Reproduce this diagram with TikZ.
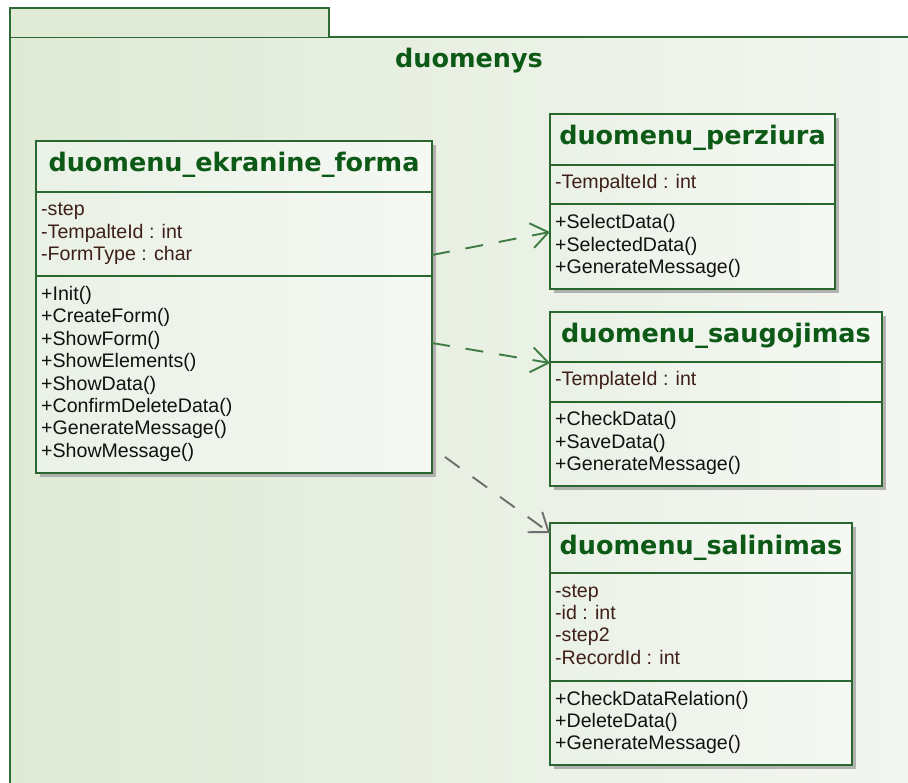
\documentclass[tikz,border=0pt]{standalone}
\usepackage{fontspec}
\setmainfont{Liberation Sans}
\newfontfamily\headfont{DejaVu Sans}
\usetikzlibrary{arrows.meta,calc,shadows}

\definecolor{pkgline}{HTML}{2E6A33}
\definecolor{pkgL}{HTML}{DFEAD6}
\definecolor{pkgR}{HTML}{F3F6F1}
\definecolor{tabfill}{HTML}{E0EBD7}
\definecolor{boxline}{HTML}{2A6630}
\definecolor{boxL}{HTML}{EAF1E6}
\definecolor{boxR}{HTML}{F5F8F3}
\definecolor{headgreen}{HTML}{0D5A16}
\definecolor{attrcol}{HTML}{3E2018}
\definecolor{opcol}{HTML}{111111}
\definecolor{depgreen}{HTML}{3E7C44}
\definecolor{depgray}{HTML}{6E6E6E}
\definecolor{shadowgray}{HTML}{A2A2A2}

\tikzset{
  classbox/.style={draw=boxline, line width=1.4pt, left color=boxL, right color=boxR,
    anchor=north west, inner sep=0pt, outer sep=0pt,
    drop shadow={shadow xshift=4pt, shadow yshift=-4pt, fill=shadowgray, opacity=0.8}},
  divider/.style={draw=boxline, line width=1.2pt},
  classname/.style={font=\headfont\bfseries\fontsize{25.5}{28}\selectfont, text=headgreen,
    anchor=base, inner sep=0pt},
  member/.style={font=\fontsize{19.6}{22}\selectfont, anchor=base west, inner sep=0pt},
  dep/.style={line width=1.9pt, dash pattern=on 18pt off 16pt,
    -{Straight Barb[length=17pt,width=25pt,line width=1.9pt]}},
}

% lines of a compartment: box, offset of first baseline, entries, colour, name prefix
\newcommand\compartment[5]{%
  \foreach \t [count=\i from 0] in {#3}
    \node[member, text=#4] (#5\i) at ($(#1.north west)+(5,{#2+22.4*\i})$) {\t};%
}

\begin{document}
\begin{tikzpicture}[x=1pt,y=-1pt]
\useasboundingbox (0,0) rectangle (908,783);

% package frame
\begin{scope}
  \clip (0,0) rectangle (908,783);
  \path[left color=pkgL, right color=pkgR] (10,37) rectangle (930,800);
  \draw[pkgline, line width=1.5pt] (930,37) -- (10,37) -- (10,800);
  \fill[tabfill] (10,8) rectangle (329,37);
  \draw[pkgline, line width=1.5pt] (10,37) -- (10,8) -- (329,8) -- (329,37);
\end{scope}
\node[classname] (pkgname) at (469,68) {duomenys};

% classes
\node[classbox, minimum width=396pt, minimum height=332pt] (ekr) at (36,141) {};
\node[classbox, minimum width=285pt, minimum height=175pt] (per) at (550,114) {};
\node[classbox, minimum width=332pt, minimum height=174pt] (sau) at (550,312) {};
\node[classbox, minimum width=302pt, minimum height=242pt] (sal) at (550,523) {};

% compartment dividers
\foreach \b/\da/\db in {ekr/51/135, per/51/90, sau/50/90, sal/50/158} {
  \draw[divider] ($(\b.north west)+(0,\da)$) -- ($(\b.north east)+(0,\da)$);
  \draw[divider] ($(\b.north west)+(0,\db)$) -- ($(\b.north east)+(0,\db)$);
}

% class names
\node[classname] (ekr-name) at ($(ekr.north)+(0,31)$) {duomenu\_ekranine\_forma};
\node[classname] (per-name) at ($(per.north)+(0,31)$) {duomenu\_perziura};
\node[classname] (sau-name) at ($(sau.north)+(0,31)$) {duomenu\_saugojimas};
\node[classname] (sal-name) at ($(sal.north)+(0,31)$) {duomenu\_salinimas};

% attributes and operations
\compartment{ekr}{75}{-step, -TempalteId : int, -FormType : char}{attrcol}{ekr-a}
\compartment{ekr}{159.5}{+Init(), +CreateForm(), +ShowForm(), +ShowElements(), +ShowData(),
  +ConfirmDeleteData(), +GenerateMessage(), +ShowMessage()}{opcol}{ekr-o}
\compartment{per}{75}{-TempalteId : int}{attrcol}{per-a}
\compartment{per}{115}{+SelectData(), +SelectedData(), +GenerateMessage()}{opcol}{per-o}
\compartment{sau}{74}{-TemplateId : int}{attrcol}{sau-a}
\compartment{sau}{114}{+CheckData(), +SaveData(), +GenerateMessage()}{opcol}{sau-o}
\compartment{sal}{74}{-step, -id : int, -step2, -RecordId : int}{attrcol}{sal-a}
\compartment{sal}{182}{+CheckDataRelation(), +DeleteData(), +GenerateMessage()}{opcol}{sal-o}

% dependencies
\draw[dep, depgreen] ($(ekr.north east)+(0,114)$) -- ($(per.north west)+(0,118)$);
\draw[dep, depgreen] ($(ekr.north east)+(0,202)$) -- ($(sau.north west)+(0,51)$);
\draw[dep, depgray] ($(ekr.north east)+(13,316)$) -- ($(sal.north west)+(0,10)$);
\end{tikzpicture}
\end{document}
